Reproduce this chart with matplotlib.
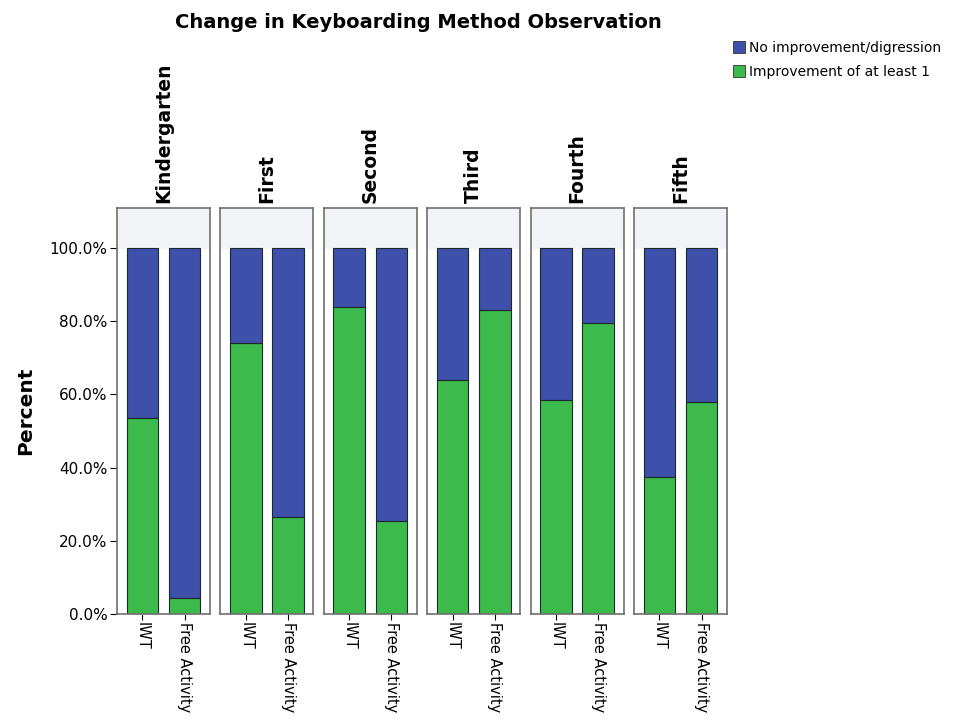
import matplotlib.pyplot as plt
from matplotlib.patches import Patch

plt.rcParams['font.family'] = ['DejaVu Sans']

grades = ['Kindergarten', 'First', 'Second', 'Third', 'Fourth', 'Fifth']
methods = ['IWT', 'Free Activity']
# percent with improvement of at least 1, per grade: [IWT, Free Activity]
improved = [
    [53.5, 4.5],
    [74.0, 26.5],
    [84.0, 25.5],
    [64.0, 83.0],
    [58.5, 79.5],
    [37.5, 58.0],
]
legend_labels = ['No improvement/digression', 'Improvement of at least 1']

blue = '#3f50ab'
green = '#3dba4c'

fig = plt.figure(figsize=(9.6, 7.2), dpi=100)

left0 = 117 / 960
width = 93 / 960
step = 103.4 / 960
bottom = 1 - 614 / 720
height = (614 - 208) / 720
ytop = (614 - 208) / 3.66

for i, grade in enumerate(grades):
    ax = fig.add_axes([left0 + i * step, bottom, width, height])
    ax.axhspan(100, ytop, color='#f1f3f6', zorder=0)
    x = [0, 1]
    g = improved[i]
    rest = [100 - v for v in g]
    ax.bar(x, g, width=0.75, color=green, edgecolor='#1a2a2a', linewidth=0.8, zorder=2)
    ax.bar(x, rest, bottom=g, width=0.75, color=blue, edgecolor='#1a2a2a', linewidth=0.8, zorder=2)
    ax.set_xlim(-0.6, 1.6)
    ax.set_ylim(0, ytop)
    for s in ax.spines.values():
        s.set_color('#6f6f6f')
        s.set_linewidth(1.2)
    ax.set_xticks(x)
    ax.set_xticklabels(methods, rotation=270, fontsize=10.5, va='top', ha='center')
    ax.tick_params(axis='x', length=4, width=0.8, pad=2)
    if i == 0:
        ax.set_yticks([0, 20, 40, 60, 80, 100])
        ax.set_yticklabels(['%.1f%%' % v for v in [0, 20, 40, 60, 80, 100]], fontsize=11)
        ax.tick_params(axis='y', length=5, width=0.8, pad=2)
        ax.set_ylabel('Percent', fontsize=14.5, fontweight='bold', labelpad=10)
    else:
        ax.set_yticks([])
    ax.text(0.5, 1.012, grade, transform=ax.transAxes, rotation=90,
            ha='center', va='bottom', fontsize=13.5, fontweight='bold')

fig.text(418 / 960, 1 - 22 / 720, 'Change in Keyboarding Method Observation',
         ha='center', va='center', fontsize=14, fontweight='bold')

handles = [Patch(facecolor=blue, edgecolor='#333333', linewidth=0.6),
           Patch(facecolor=green, edgecolor='#333333', linewidth=0.6)]
fig.legend(handles, legend_labels, loc='upper left',
           bbox_to_anchor=(727 / 960, 1 - 35 / 720), frameon=False,
           fontsize=10, handlelength=0.9, handleheight=1.0,
           handletextpad=0.3, labelspacing=0.75, borderaxespad=0)

fig.savefig('out.png', dpi=100)
